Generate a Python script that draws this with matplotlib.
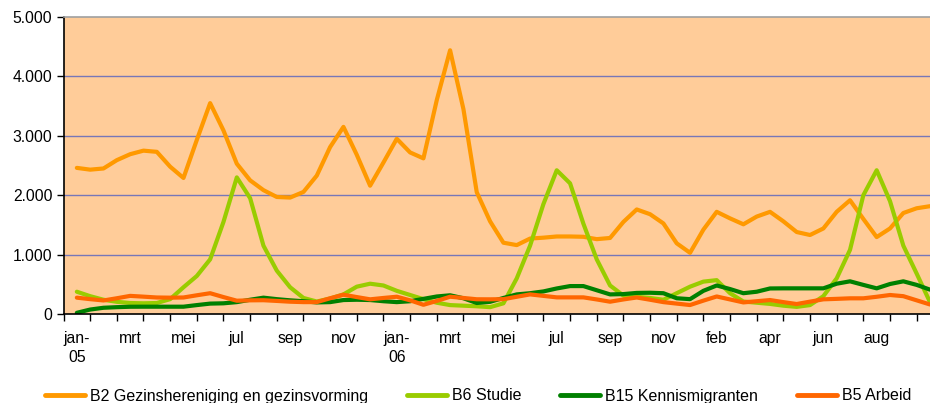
import numpy as np
import matplotlib
matplotlib.use("Agg")
import matplotlib.pyplot as plt
from matplotlib.ticker import FuncFormatter, FixedLocator

plt.rcParams['font.family'] = ['Liberation Sans', 'DejaVu Sans']

# half-month readings, from jan-05 onward
b2 = [2460, 2430, 2450, 2590, 2690, 2750, 2730, 2480, 2290, 2930, 3550, 3090, 2530,
      2250, 2085, 1970, 1960, 2055, 2330, 2810, 3150, 2680, 2160, 2550, 2950, 2720,
      2620, 3600, 4440, 3450, 2050, 1560, 1200, 1160, 1270, 1285, 1305, 1305, 1300,
      1260, 1280, 1550, 1760, 1680, 1525, 1190, 1030, 1420, 1720, 1610, 1510, 1640,
      1720, 1560, 1380, 1330, 1440, 1720, 1915, 1600, 1295, 1440, 1700, 1780, 1815]
b6 = [375, 300, 240, 205, 185, 180, 185, 250, 450, 640, 920, 1550, 2300,
      1950, 1150, 730, 450, 270, 210, 260, 330, 460, 510, 480, 390, 320,
      250, 190, 150, 140, 130, 115, 180, 600, 1150, 1850, 2420, 2200, 1520,
      920, 480, 310, 290, 270, 240, 350, 460, 545, 570, 350, 210, 190,
      170, 140, 120, 150, 300, 600, 1080, 2000, 2420, 1900, 1150, 680, 200]
b15 = [20, 75, 105, 115, 122, 123, 123, 123, 123, 150, 175, 180, 200,
       240, 275, 250, 230, 215, 195, 200, 235, 240, 235, 215, 200, 215,
       255, 295, 315, 265, 185, 205, 270, 330, 350, 380, 430, 470, 470,
       400, 330, 335, 355, 358, 350, 265, 250, 390, 480, 420, 350, 375,
       430, 432, 432, 432, 432, 510, 550, 490, 432, 505, 550, 490, 410]
b5 = [275, 250, 228, 265, 305, 292, 278, 275, 278, 315, 350, 285, 224,
      230, 232, 220, 207, 200, 200, 265, 325, 285, 247, 270, 291, 230,
      155, 220, 291, 270, 248, 247, 250, 290, 330, 305, 280, 280, 280,
      245, 207, 245, 278, 240, 200, 175, 151, 225, 295, 245, 195, 215,
      235, 200, 168, 208, 247, 255, 264, 264, 290, 320, 300, 230, 160]

series_names = ["B2 Gezinshereniging en gezinsvorming", "B6 Studie",
                "B15 Kennismigranten", "B5 Arbeid"]
series_colors = ["#FF9900", "#99CC00", "#008000", "#FF6600"]

month_labels = ["jan-\n05", "mrt", "mei", "jul", "sep", "nov", "jan-\n06", "mrt",
                "mei", "jul", "sep", "nov", "feb", "apr", "jun", "aug"]

x = np.arange(len(b2)) * 0.5

fig = plt.figure(figsize=(9.30, 4.03), dpi=100)
ax = fig.add_axes([63.5 / 930, (403 - 314) / 403, 1 - 63.5 / 930, (314 - 17) / 403])
ax.set_facecolor("#FFCC99")

for vals, name, col in zip([b2, b6, b15, b5], series_names, series_colors):
    ax.plot(x, vals, color=col, lw=3.0, label=name, solid_joinstyle='round',
            solid_capstyle='round')

ax.set_xlim(-0.5, 32.0)
ax.set_ylim(0, 5000)
ax.set_yticks([0, 1000, 2000, 3000, 4000, 5000])
ax.yaxis.set_major_formatter(FuncFormatter(lambda v, p: f"{int(v):,}".replace(",", ".")))
for yv in [1000, 2000, 3000, 4000]:
    ax.axhline(yv, color="#7777B8", lw=1.0, zorder=0.5)

label_pos = np.arange(0, 2 * len(month_labels), 2)
ax.xaxis.set_major_locator(FixedLocator(label_pos))
ax.set_xticklabels(month_labels, fontsize=11.3, linespacing=1.4, va='top')
ax.xaxis.set_minor_locator(FixedLocator(np.arange(-0.5, 32.5, 1.0)))
ax.tick_params(axis='x', which='major', length=0, pad=12)
ax.tick_params(axis='x', which='minor', length=5, width=1, direction='out', color='black')
ax.tick_params(axis='y', length=5, width=1, direction='out', labelsize=11.3, pad=3)

ax.spines['right'].set_visible(False)
ax.spines['top'].set_color('#A0A0A0')
ax.spines['top'].set_linewidth(1.2)
for s in ['left', 'bottom']:
    ax.spines[s].set_color('black')
    ax.spines[s].set_linewidth(1.2)

leg = fig.legend(loc='center left', bbox_to_anchor=(45 / 930, 1 - 396 / 403), ncol=4,
                 frameon=False, fontsize=11.5, handlelength=2.5, handletextpad=0.3,
                 columnspacing=2.45, borderaxespad=0, borderpad=0)
for ln in leg.get_lines():
    ln.set_linewidth(3.5)

fig.savefig("out.png", dpi=100)
